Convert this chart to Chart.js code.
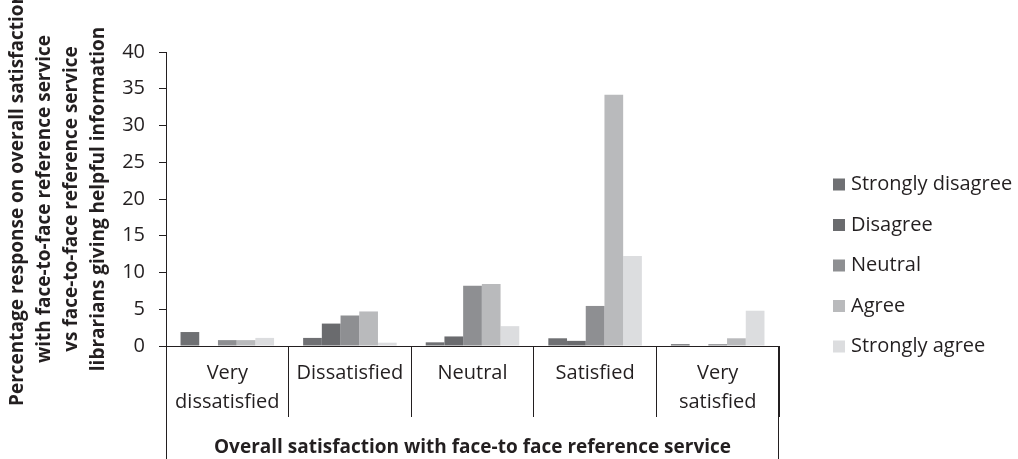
<!DOCTYPE html>
<html>
<head>
<meta charset="utf-8">
<title>Overall satisfaction with face-to-face reference service</title>
<script src="https://cdn.jsdelivr.net/npm/chart.js@4.4.1/dist/chart.umd.min.js"></script>
<style>
  html, body { margin: 0; padding: 0; background: #fff; }
  #myChart { display: block; }
</style>
</head>
<body>
<canvas id="myChart" width="1018" height="459"></canvas>
<script>
'use strict'

// *********DATA***********

let categories = [['Very', 'dissatisfied'], 'Dissatisfied', 'Neutral', 'Satisfied', ['Very', 'satisfied']];
let seriesNames = ['Strongly disagree', 'Disagree', 'Neutral', 'Agree', 'Strongly agree'];

let stronglyDisagree = [1.9, 1.1, 0.5, 1.05, 0.25];
let disagree = [0, 3.05, 1.3, 0.7, 0];
let neutral = [0.8, 4.15, 8.2, 5.45, 0.25];
let agree = [0.8, 4.7, 8.45, 34.2, 1.05];
let stronglyAgree = [1.1, 0.45, 2.7, 12.25, 4.8];

let yTicks = [0, 5, 10, 15, 20, 25, 30, 35, 40];

let yTitle = [
  'Percentage response on overall satisfaction',
  'with face-to-face reference service',
  'vs face-to-face reference service',
  'librarians giving helpful information'
];
let xTitle = 'Overall satisfaction with face-to face reference service';


// *********STYLES***********

let seriesColors = ['#6f7073', '#6a6b6e', '#8e8f92', '#b9babc', '#dcdddf'];
let inkColor = '#231f20';
let fontFamily = '"Open Sans", "Noto Sans", sans-serif';


// ********HELPER PLUGIN*********

// outer lines of the category box and the legend on the right
let boxAndLegend = {
  id: 'boxAndLegend',
  afterDraw(chart) {
    let c = chart.ctx;
    let xScale = chart.scales.x;
    c.save();
    c.strokeStyle = inkColor;
    c.lineWidth = 1;
    c.beginPath();
    c.moveTo(Math.round(xScale.left) + 0.5, xScale.top);
    c.lineTo(Math.round(xScale.left) + 0.5, chart.height);
    c.moveTo(Math.round(xScale.right) - 0.5, xScale.top);
    c.lineTo(Math.round(xScale.right) - 0.5, chart.height);
    c.stroke();

    // legend
    let opts = chart.options.plugins.boxAndLegend;
    c.font = '20px ' + fontFamily;
    c.textBaseline = 'middle';
    c.textAlign = 'left';
    let sets = chart.data.datasets;
    for (let i = 0; i < sets.length; i++) {
      let y = opts.top + i * opts.step;
      c.fillStyle = sets[i].backgroundColor;
      c.fillRect(opts.x, y - opts.box / 2, opts.box, opts.box);
      c.fillStyle = inkColor;
      c.fillText(sets[i].label, opts.x + opts.box + 6, y);
    }
    c.restore();
  }
};


// ************CHART RENDER****************

let ctx = document.getElementById('myChart');

let seriesValues = [stronglyDisagree, disagree, neutral, agree, stronglyAgree];
let datasets = [];
for (let i = 0; i < seriesNames.length; i++) {
  datasets.push({
    label: seriesNames[i],
    data: seriesValues[i],
    backgroundColor: seriesColors[i],
    borderWidth: 0,
    barPercentage: 1,
    categoryPercentage: 0.763
  });
}

let myChartObj = {
  type: 'bar',
  data: {
    labels: categories,
    datasets: datasets
  },
  options: {
    responsive: false,
    animation: false,
    devicePixelRatio: 1,
    layout: {
      padding: { top: 52, right: 239, bottom: 0, left: 0 }
    },
    plugins: {
      legend: { display: false },
      tooltip: { enabled: false },
      boxAndLegend: { x: 833, top: 184.5, step: 40.5, box: 12 }
    },
    scales: {
      x: {
        afterFit(scale) { scale.height = 113; },
        grid: {
          display: true,
          drawOnChartArea: false,
          drawTicks: true,
          tickLength: 71,
          color: inkColor,
          offset: true
        },
        border: { display: true, color: inkColor, width: 1 },
        ticks: {
          color: inkColor,
          padding: -58,
          maxRotation: 0,
          autoSkip: false,
          font: { family: fontFamily, size: 20, lineHeight: 1.45 }
        },
        title: {
          display: true,
          text: xTitle,
          color: inkColor,
          padding: { top: 0, bottom: 0 },
          font: { family: fontFamily, size: 19, weight: 'bold', lineHeight: 1.2 }
        }
      },
      y: {
        min: 0,
        max: 40,
        afterFit(scale) { scale.width = 166; },
        afterBuildTicks(scale) {
          scale.ticks = yTicks.map(v => ({ value: v }));
        },
        grid: {
          display: true,
          drawOnChartArea: false,
          drawTicks: true,
          tickLength: 7,
          color: inkColor
        },
        border: { display: true, color: inkColor, width: 1 },
        ticks: {
          color: inkColor,
          padding: 14,
          font: { family: fontFamily, size: 20 }
        },
        title: {
          display: true,
          text: yTitle,
          color: inkColor,
          padding: { top: 4, bottom: 0 },
          font: { family: fontFamily, size: 19, weight: 'bold', lineHeight: 1.42 }
        }
      }
    }
  },
  plugins: [boxAndLegend]
};

new Chart(ctx, myChartObj);
</script>
</body>
</html>
